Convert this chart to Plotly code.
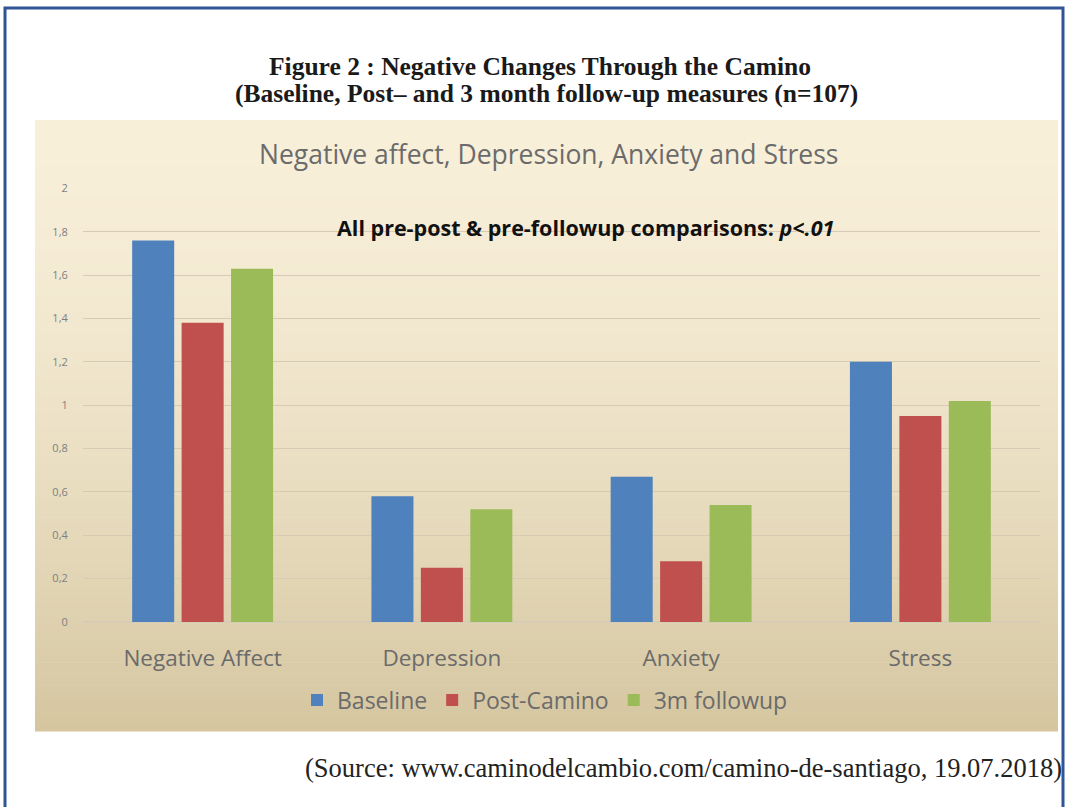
import plotly.graph_objects as go

categories = ["Negative Affect", "Depression", "Anxiety", "Stress"]
baseline = [1.76, 0.58, 0.67, 1.20]
post_camino = [1.38, 0.25, 0.28, 0.95]
followup = [1.63, 0.52, 0.54, 1.02]
series_names = ["Baseline", "Post-Camino", "3m followup"]
colors = ["#4F81BD", "#C0504D", "#9BBB59"]

W, H = 1067, 807
L, R, T, B = 83, 1040, 188, 622  # plot area in px


def px(x):
    return (x - L) / (R - L)


def py(y):
    return (B - y) / (B - T)


fig = go.Figure()
for name, vals, c in zip(series_names, [baseline, post_camino, followup], colors):
    fig.add_trace(go.Bar(x=categories, y=vals, name=name, marker=dict(color=c, line=dict(width=0))))

shapes = []
# gradient background
top_c = (248, 239, 217)
bot_c = (213, 198, 160)
y0, y1 = 120, 731
n = 80
for i in range(n):
    t = i / (n - 1)
    f = t ** 1.6
    col = tuple(int(round(top_c[k] + (bot_c[k] - top_c[k]) * f)) for k in range(3))
    ya = y0 + (y1 - y0) * i / n
    yb = y0 + (y1 - y0) * (i + 1) / n + 0.6
    shapes.append(dict(type="rect", xref="paper", yref="paper", layer="below",
                       x0=px(35), x1=px(1058), y0=py(ya), y1=py(yb),
                       fillcolor="rgb(%d,%d,%d)" % col, line=dict(width=0)))
# outer frame
shapes.append(dict(type="rect", xref="paper", yref="paper", layer="above",
                   x0=px(5), x1=px(1063), y0=py(8), y1=py(830),
                   line=dict(color="#2F5597", width=3), fillcolor="rgba(0,0,0,0)"))

annotations = [
    dict(text="<b>Figure 2 : Negative Changes Through the Camino</b>", x=px(540), y=py(66),
         font=dict(family="Liberation Serif", size=25.5, color="#1a1a1a")),
    dict(text="<b>(Baseline, Post– and 3 month follow-up measures (n=107)</b>", x=px(546), y=py(94),
         font=dict(family="Liberation Serif", size=25.5, color="#1a1a1a")),
    dict(text="Negative affect, Depression, Anxiety and Stress", x=px(548), y=py(154),
         font=dict(family="Open Sans", size=26.5, color="#6b6b6b")),
    dict(text="<b>All pre-post &amp; pre-followup comparisons: <i>p&lt;.01</i></b>", x=px(585), y=py(227),
         font=dict(family="Open Sans", size=21.5, color="#111111")),
    dict(text="(Source: www.caminodelcambio.com/camino-de-santiago, 19.07.2018)", x=px(1064), y=py(768),
         xanchor="right", font=dict(family="Liberation Serif", size=26.5, color="#222222")),
]
for a in annotations:
    a.setdefault("xanchor", "center")
    a.update(xref="paper", yref="paper", yanchor="middle", showarrow=False)

fig.update_layout(
    width=W, height=H,
    margin=dict(l=L, r=W - R, t=T, b=H - B, pad=0),
    paper_bgcolor="white", plot_bgcolor="rgba(0,0,0,0)",
    separators=",.",
    barmode="group", bargap=0.38, bargroupgap=0.15,
    shapes=shapes, annotations=annotations,
    showlegend=True,
    legend=dict(orientation="h", x=px(545), xanchor="center", y=py(700), yanchor="middle",
                font=dict(family="Open Sans", size=23, color="#6b6b6b"), bgcolor="rgba(0,0,0,0)",
                traceorder="normal"),
    xaxis=dict(showgrid=False, showline=False, ticks="outside", ticklen=16, tickcolor="rgba(0,0,0,0)",
               tickfont=dict(family="Open Sans", size=22.5, color="#6b6b6b")),
    yaxis=dict(range=[0, 2.002], dtick=0.2, showgrid=True, gridcolor="#d6ccb5", gridwidth=1,
               zeroline=True, zerolinecolor="#d6ccb5", showline=False,
               ticks="outside", ticklen=12, tickcolor="rgba(0,0,0,0)",
               tickfont=dict(family="Open Sans", size=11, color="#7f7f7f")),
)

fig.write_html("out.html", config={"displayModeBar": False},
               post_script="document.body.style.margin='0px';document.body.style.overflow='hidden';")
